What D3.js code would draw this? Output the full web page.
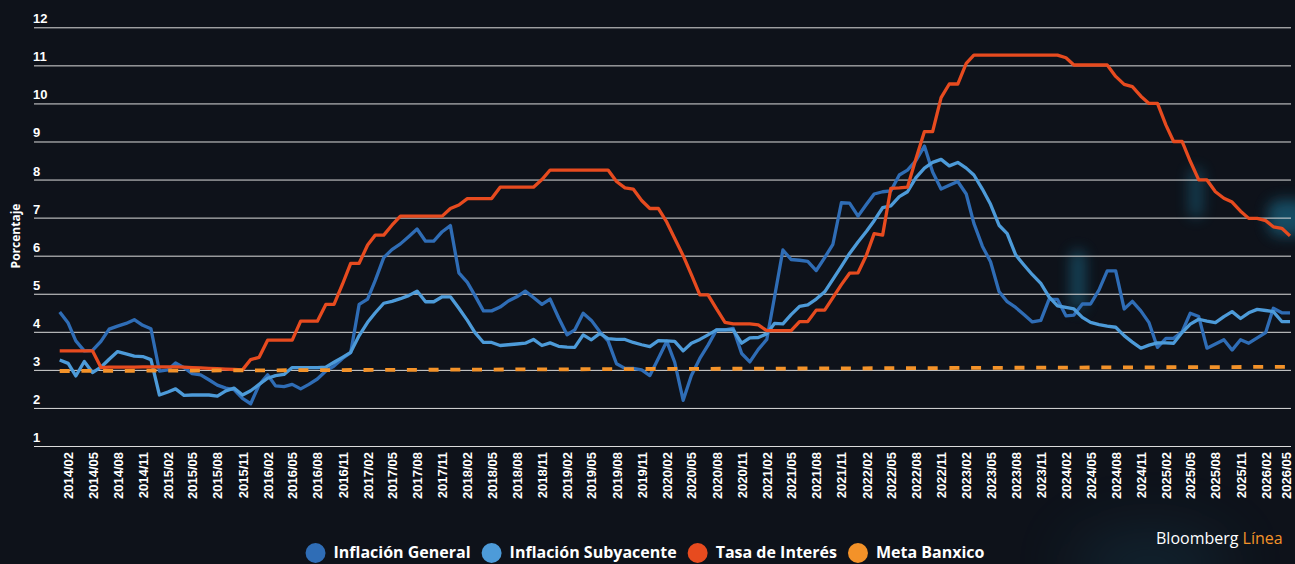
<!DOCTYPE html>
<html>
<head>
<meta charset="utf-8">
<script src="https://cdn.jsdelivr.net/npm/d3@7"></script>
<style>
  html, body { margin: 0; padding: 0; background: #0e121a; overflow: hidden; }
  svg { display: block; font-family: "Open Sans", "Noto Sans", sans-serif; }
</style>
</head>
<body>
<svg id="chart"></svg>
<script>
// monthly series, 2014/01 .. 2026/05
const firstMonth = "2014-01";

const generalValues = [
  4.52, 4.23, 3.76, 3.50, 3.51, 3.75, 4.07, 4.15, 4.22, 4.32, 4.17, 4.08,
  2.97, 3.00, 3.18, 3.06, 2.90, 2.87, 2.74, 2.60, 2.52, 2.48, 2.25, 2.11,
  2.61, 2.87, 2.58, 2.56, 2.62, 2.50, 2.62, 2.76, 2.97, 3.10, 3.30, 3.45,
  4.72, 4.86, 5.35, 5.95, 6.16, 6.31, 6.50, 6.70, 6.38, 6.38, 6.63, 6.79,
  5.55, 5.30, 4.95, 4.55, 4.55, 4.65, 4.81, 4.92, 5.07, 4.90, 4.72, 4.86,
  4.37, 3.92, 4.05, 4.49, 4.30, 4.00, 3.76, 3.16, 3.04, 3.04, 3.00, 2.85,
  3.30, 3.75, 3.20, 2.20, 2.85, 3.30, 3.65, 4.05, 4.05, 4.09, 3.43, 3.21,
  3.54, 3.80, 4.90, 6.15, 5.90, 5.88, 5.85, 5.61, 5.95, 6.30, 7.39, 7.38,
  7.04, 7.35, 7.62, 7.68, 7.70, 8.12, 8.25, 8.50, 8.88, 8.20, 7.75, 7.85,
  7.95, 7.62, 6.85, 6.25, 5.84, 5.06, 4.79, 4.64, 4.45, 4.26, 4.30, 4.85,
  4.85, 4.42, 4.44, 4.73, 4.73, 5.10, 5.60, 5.60, 4.60, 4.80, 4.55, 4.24,
  3.59, 3.83, 3.83, 4.00, 4.49, 4.40, 3.57, 3.68, 3.79, 3.52, 3.79, 3.70,
  3.84, 3.98, 4.62, 4.50, 4.50
];

const coreValues = [
  3.26, 3.17, 2.84, 3.22, 2.93, 3.07, 3.28, 3.48, 3.42, 3.36, 3.35, 3.27,
  2.34, 2.42, 2.50, 2.33, 2.34, 2.34, 2.34, 2.31, 2.45, 2.52, 2.34, 2.45,
  2.62, 2.78, 2.85, 2.88, 3.06, 3.06, 3.06, 3.06, 3.07, 3.20, 3.33, 3.46,
  3.90, 4.25, 4.50, 4.75, 4.80, 4.87, 4.95, 5.07, 4.79, 4.79, 4.92, 4.92,
  4.62, 4.30, 3.98, 3.72, 3.72, 3.64, 3.66, 3.68, 3.70, 3.80, 3.64, 3.71,
  3.62, 3.60, 3.59, 3.92, 3.79, 3.96, 3.82, 3.80, 3.80, 3.72, 3.66, 3.61,
  3.77, 3.76, 3.75, 3.50, 3.70, 3.80, 3.92, 4.05, 4.05, 4.05, 3.70, 3.84,
  3.85, 3.95, 4.22, 4.21, 4.45, 4.67, 4.71, 4.86, 5.05, 5.38, 5.72, 6.06,
  6.36, 6.64, 6.92, 7.26, 7.31, 7.55, 7.68, 8.05, 8.30, 8.45, 8.53, 8.36,
  8.45, 8.30, 8.12, 7.75, 7.35, 6.80, 6.58, 6.02, 5.75, 5.50, 5.27, 4.92,
  4.68, 4.64, 4.60, 4.38, 4.25, 4.19, 4.15, 4.12, 3.90, 3.73, 3.57, 3.65,
  3.71, 3.71, 3.70, 3.98, 4.20, 4.33, 4.28, 4.24, 4.40, 4.53, 4.35, 4.50,
  4.59, 4.56, 4.53, 4.27, 4.27
];

const rateValues = [
  3.50, 3.50, 3.50, 3.50, 3.50, 3.06, 3.07, 3.07, 3.07, 3.07, 3.08, 3.08,
  3.08, 3.08, 3.08, 3.07, 3.06, 3.05, 3.04, 3.03, 3.02, 3.01, 3.00, 3.27,
  3.33, 3.78, 3.78, 3.78, 3.78, 4.28, 4.28, 4.28, 4.72, 4.72, 5.25, 5.80,
  5.80, 6.28, 6.54, 6.54, 6.80, 7.04, 7.04, 7.04, 7.04, 7.04, 7.04, 7.24,
  7.33, 7.50, 7.50, 7.50, 7.50, 7.80, 7.80, 7.80, 7.80, 7.80, 8.00, 8.25,
  8.25, 8.25, 8.25, 8.25, 8.25, 8.25, 8.25, 7.95, 7.78, 7.75, 7.45, 7.24,
  7.24, 6.88, 6.45, 6.00, 5.50, 4.97, 4.97, 4.60, 4.25, 4.21, 4.21, 4.21,
  4.18, 4.03, 4.03, 4.03, 4.03, 4.27, 4.27, 4.57, 4.57, 4.90, 5.24, 5.54,
  5.55, 6.02, 6.58, 6.54, 7.77, 7.78, 7.80, 8.55, 9.26, 9.26, 10.15, 10.51,
  10.51, 11.05, 11.27, 11.27, 11.27, 11.27, 11.27, 11.27, 11.27, 11.27, 11.27, 11.27,
  11.27, 11.20, 11.01, 11.01, 11.01, 11.01, 11.01, 10.71, 10.50, 10.44, 10.19, 10.00,
  10.00, 9.43, 9.00, 9.00, 8.48, 7.99, 7.99, 7.68, 7.51, 7.41, 7.17, 6.98,
  6.98, 6.92, 6.76, 6.72, 6.52
];

// target line, start and end as drawn
const metaMonths = ["2014-01", "2026-05"];
const metaValues = [2.97, 3.08];

const yTicks = [1, 2, 3, 4, 5, 6, 7, 8, 9, 10, 11, 12];
const seriesNames = ["Inflación General", "Inflación Subyacente", "Tasa de Interés", "Meta Banxico"];
const seriesColors = ["#2f6db6", "#4d9bd9", "#e74b1f", "#f39229"];

const W = 1295, H = 564;
const svg = d3.select("#chart").attr("width", W).attr("height", H);

const parseMonth = d3.timeParse("%Y-%m");
const start = parseMonth(firstMonth);
const months = d3.timeMonth.range(start, d3.timeMonth.offset(start, generalValues.length));
const tickMonths = months.filter((d, i) => i % 3 === 1);

const x = d3.scaleTime()
  .domain([months[0], months[months.length - 1]])
  .range([59.7, 1290]);

const y = d3.scaleLinear()
  .domain([1, 12])
  .range([446, 27.3]);

// background glow, like the photo behind the original
const defs = svg.append("defs");
defs.append("filter").attr("id", "blur").attr("x", "-100%").attr("y", "-100%")
  .attr("width", "300%").attr("height", "300%")
  .append("feGaussianBlur").attr("stdDeviation", 7);
defs.append("filter").attr("id", "blurBig").attr("x", "-100%").attr("y", "-100%")
  .attr("width", "300%").attr("height", "300%")
  .append("feGaussianBlur").attr("stdDeviation", 30);

svg.append("rect").attr("width", W).attr("height", H).attr("fill", "#0e121a");
const glow = svg.append("g");
glow.append("ellipse").attr("cx", 1150).attr("cy", 565).attr("rx", 80).attr("ry", 35)
  .attr("fill", "#1b5a72").attr("opacity", 0.25).attr("filter", "url(#blurBig)");
glow.append("rect").attr("x", 1071).attr("y", 250).attr("width", 14).attr("height", 60).attr("rx", 7)
  .attr("fill", "#1f7394").attr("opacity", 0.55).attr("filter", "url(#blur)");
glow.append("rect").attr("x", 1189).attr("y", 168).attr("width", 14).attr("height", 50).attr("rx", 7)
  .attr("fill", "#1f7394").attr("opacity", 0.45).attr("filter", "url(#blur)");
glow.append("rect").attr("x", 1268).attr("y", 200).attr("width", 40).attr("height", 36).attr("rx", 12)
  .attr("fill", "#1f7394").attr("opacity", 0.6).attr("filter", "url(#blur)");

// y grid + labels
const yAxis = svg.append("g")
  .attr("transform", "translate(34,0)")
  .call(d3.axisRight(y).tickValues(yTicks).tickSize(1257).tickFormat(d3.format("d")));
yAxis.select(".domain").remove();
yAxis.selectAll(".tick line").attr("stroke", "#dcdcdc").attr("stroke-width", 1);
yAxis.selectAll(".tick text")
  .attr("x", -1).attr("y", -4.5).attr("dy", 0)
  .attr("text-anchor", "start")
  .attr("fill", "#ffffff")
  .style("font-size", "13px").style("font-weight", 700);

// x axis labels
const xAxis = svg.append("g")
  .attr("transform", "translate(0,446)")
  .call(d3.axisBottom(x).tickValues(tickMonths).tickSize(0).tickFormat(d3.timeFormat("%Y/%m")));
xAxis.select(".domain").remove();
xAxis.selectAll(".tick text")
  .attr("transform", "rotate(-90)")
  .attr("x", -6).attr("y", 0).attr("dy", "0.35em")
  .attr("text-anchor", "end")
  .attr("fill", "#ffffff")
  .style("font-size", "13px").style("font-weight", 700);
// last label sits on the right edge, nudge it inside
xAxis.selectAll(".tick").filter((d, i, n) => i === n.length - 1)
  .attr("transform", d => `translate(${Math.min(x(d), W - 9)},0)`);

svg.append("text")
  .attr("transform", "translate(20,236) rotate(-90)")
  .attr("text-anchor", "middle")
  .attr("fill", "#ffffff")
  .style("font-size", "12px").style("font-weight", 700)
  .text("Porcentaje");

// lines
const line = d3.line()
  .x(d => x(d.date))
  .y(d => y(d.value));

const toPoints = vals => vals.map((v, i) => ({ date: months[i], value: v }));
const metaPoints = metaMonths.map((m, i) => ({ date: parseMonth(m), value: metaValues[i] }));

const series = [
  { name: seriesNames[0], color: seriesColors[0], pts: toPoints(generalValues) },
  { name: seriesNames[1], color: seriesColors[1], pts: toPoints(coreValues) },
  { name: seriesNames[2], color: seriesColors[2], pts: toPoints(rateValues) }
];

svg.append("g").selectAll("path")
  .data(series)
  .enter()
  .append("path")
  .attr("d", d => line(d.pts))
  .attr("fill", "none")
  .attr("stroke", d => d.color)
  .attr("stroke-width", 3.3)
  .attr("stroke-linejoin", "round");

svg.append("path")
  .attr("d", line(metaPoints))
  .attr("fill", "none")
  .attr("stroke", seriesColors[3])
  .attr("stroke-width", 3.8)
  .attr("stroke-dasharray", "10,11.7");

// legend, centred under the chart
const legend = svg.append("g");
const items = legend.selectAll("g")
  .data(seriesNames)
  .enter()
  .append("g");
items.append("circle")
  .attr("r", 10)
  .attr("cy", 553)
  .attr("fill", (d, i) => seriesColors[i]);
items.append("text")
  .attr("y", 558)
  .attr("fill", "#ffffff")
  .style("font-size", "16px").style("font-weight", 700)
  .text(d => d);

let cursor = 0;
const offsets = [];
items.each(function () {
  const w = d3.select(this).select("text").node().getComputedTextLength();
  offsets.push(cursor);
  cursor += 20 + 8 + w + 11;
});
const total = cursor - 11;
const left = 645 - total / 2;
items.each(function (d, i) {
  const g = d3.select(this);
  g.select("circle").attr("cx", left + offsets[i] + 10);
  g.select("text").attr("x", left + offsets[i] + 28);
});

// brand
const brand = svg.append("text")
  .attr("x", 1156).attr("y", 544)
  .style("font-size", "16px");
brand.append("tspan").attr("fill", "#ffffff").text("Bloomberg ");
brand.append("tspan").attr("fill", "#f39229").text("Línea");
</script>
</body>
</html>
